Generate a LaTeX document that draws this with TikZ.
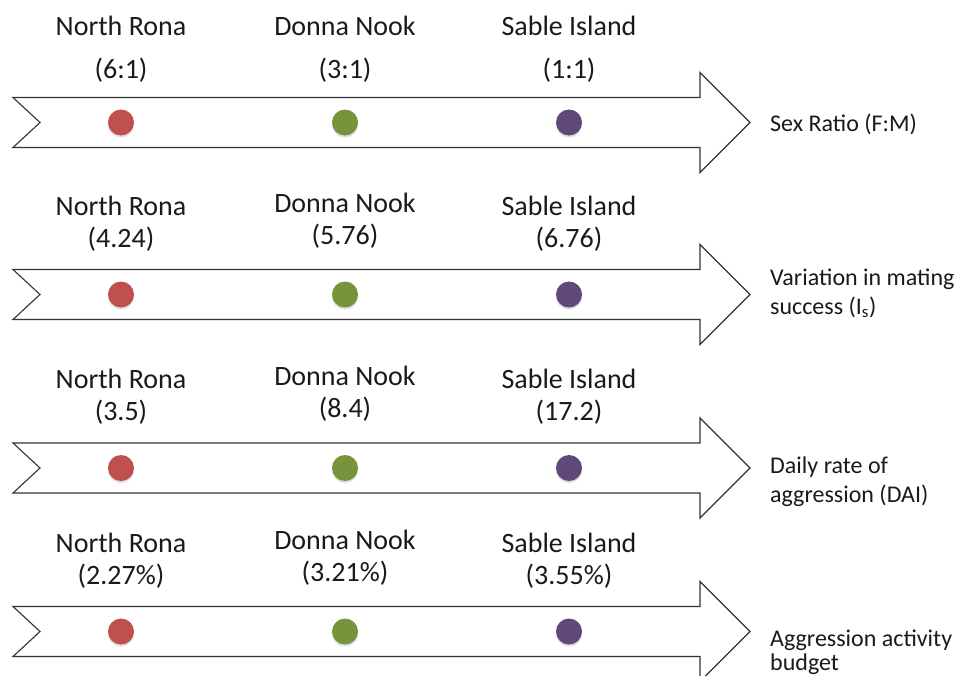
\documentclass[tikz,border=0pt]{standalone}
\usepackage{fontspec}
\setmainfont{Carlito}
\usetikzlibrary{shadows}
\definecolor{dotred}{HTML}{C0504D}
\definecolor{dotgreen}{HTML}{77933C}
\definecolor{dotpurple}{HTML}{5F497A}
\definecolor{txt}{HTML}{1A1A1A}
\begin{document}
\begin{tikzpicture}[x=1pt,y=-1pt,
  chevron/.style={draw=black!80, line width=1.1pt, fill=white, line join=miter},
  dotnode/.style={circle, minimum size=26pt, inner sep=0pt,
     drop shadow={shadow xshift=0pt, shadow yshift=-2pt, opacity=0.25}},
  site/.style={font=\fontsize{28}{34}\selectfont, text=txt, anchor=base, inner sep=0pt},
  measure/.style={font=\fontsize{24}{29}\selectfont, text=txt, anchor=base west, inner sep=0pt}]
\useasboundingbox (0,0) rectangle (963,675);
\clip (0,0) rectangle (963,675);
\fill[white] (0,0) rectangle (963,675);

% chevron arrows
\foreach \c in {122.5,294.5,468,631.5}{
  \draw[chevron] (13,\c-25) -- (700,\c-25) -- (700,\c-50) -- (750,\c)
     -- (700,\c+50) -- (700,\c+25) -- (13,\c+25) -- (40,\c) -- cycle;
}

% row 1
\node[dotnode, fill=dotred]    (d11) at (121,122.5) {};
\node[dotnode, fill=dotgreen]  (d12) at (345,122.5) {};
\node[dotnode, fill=dotpurple] (d13) at (569,122.5) {};
\node[site] (n11) at (121,35) {North Rona};
\node[site] (n12) at (345,35) {Donna Nook};
\node[site] (n13) at (569,35) {Sable Island};
\node[site] (v11) at (121,78) {(6:1)};
\node[site] (v12) at (345,78) {(3:1)};
\node[site] (v13) at (569,78) {(1:1)};
\node[measure] (m1) at (770,131) {Sex Ratio (F:M)};

% row 2
\node[dotnode, fill=dotred]    (d21) at (121,294.5) {};
\node[dotnode, fill=dotgreen]  (d22) at (345,294.5) {};
\node[dotnode, fill=dotpurple] (d23) at (569,294.5) {};
\node[site] (n21) at (121,215) {North Rona};
\node[site] (n22) at (345,212) {Donna Nook};
\node[site] (n23) at (569,215) {Sable Island};
\node[site] (v21) at (121,247) {(4.24)};
\node[site] (v22) at (345,244) {(5.76)};
\node[site] (v23) at (569,247) {(6.76)};
\node[measure] (m2a) at (770,285) {Variation in mating};
\node[measure] (m2b) at (770,314) {success (I\textsubscript{s})};

% row 3
\node[dotnode, fill=dotred]    (d31) at (121,468) {};
\node[dotnode, fill=dotgreen]  (d32) at (345,468) {};
\node[dotnode, fill=dotpurple] (d33) at (569,468) {};
\node[site] (n31) at (121,388) {North Rona};
\node[site] (n32) at (345,385) {Donna Nook};
\node[site] (n33) at (569,388) {Sable Island};
\node[site] (v31) at (121,420) {(3.5)};
\node[site] (v32) at (345,417) {(8.4)};
\node[site] (v33) at (569,420) {(17.2)};
\node[measure] (m3a) at (770,473) {Daily rate of};
\node[measure] (m3b) at (770,502) {aggression (DAI)};

% row 4
\node[dotnode, fill=dotred]    (d41) at (121,631.5) {};
\node[dotnode, fill=dotgreen]  (d42) at (345,631.5) {};
\node[dotnode, fill=dotpurple] (d43) at (569,631.5) {};
\node[site] (n41) at (121,552) {North Rona};
\node[site] (n42) at (345,549) {Donna Nook};
\node[site] (n43) at (569,552) {Sable Island};
\node[site] (v41) at (121,584) {(2.27\%)};
\node[site] (v42) at (345,581) {(3.21\%)};
\node[site] (v43) at (569,584) {(3.55\%)};
\node[measure] (m4a) at (770,646) {Aggression activity};
\node[measure] (m4b) at (770,670) {budget};
\end{tikzpicture}
\end{document}
